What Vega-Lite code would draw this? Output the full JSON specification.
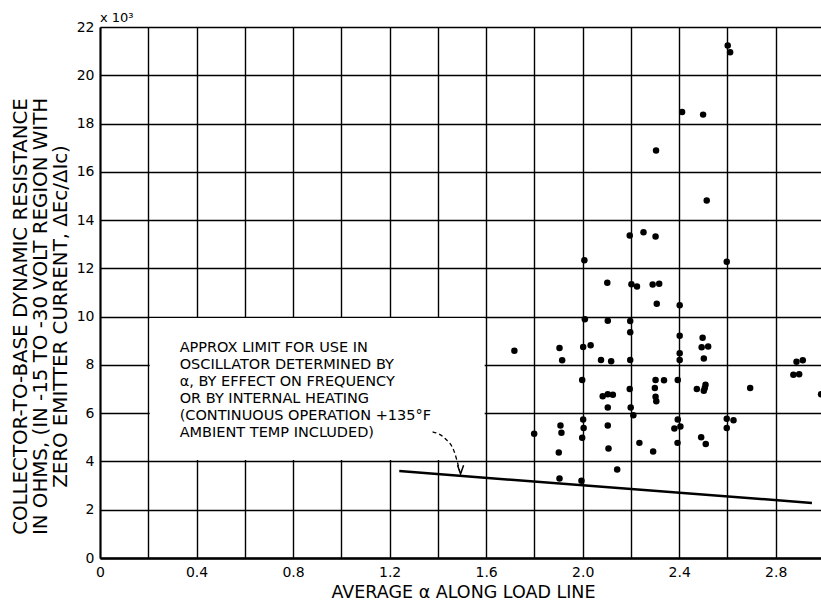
{
  "$schema": "https://vega.github.io/schema/vega-lite/v6.json",
  "width": 721,
  "height": 531,
  "autosize": {"type": "none"},
  "padding": {"left": 100, "top": 27, "right": 0, "bottom": 43},
  "background": "white",
  "config": {"view": {"stroke": null}, "font": "DejaVu Sans"},
  "datasets": {
    "points": [
      {"alpha": 2.601, "resistance": 21.23}, {"alpha": 2.611, "resistance": 20.95}, {"alpha": 2.412, "resistance": 18.48}, {"alpha": 2.499, "resistance": 18.37},
      {"alpha": 2.304, "resistance": 16.88}, {"alpha": 2.514, "resistance": 14.81}, {"alpha": 2.195, "resistance": 13.36}, {"alpha": 2.252, "resistance": 13.5},
      {"alpha": 2.302, "resistance": 13.32}, {"alpha": 2.007, "resistance": 12.34}, {"alpha": 2.597, "resistance": 12.27}, {"alpha": 2.102, "resistance": 11.4},
      {"alpha": 2.202, "resistance": 11.34}, {"alpha": 2.225, "resistance": 11.25}, {"alpha": 2.29, "resistance": 11.33}, {"alpha": 2.317, "resistance": 11.36},
      {"alpha": 2.307, "resistance": 10.53}, {"alpha": 2.402, "resistance": 10.47}, {"alpha": 2.009, "resistance": 9.89}, {"alpha": 2.104, "resistance": 9.83},
      {"alpha": 2.197, "resistance": 9.82}, {"alpha": 2.197, "resistance": 9.35}, {"alpha": 2.402, "resistance": 9.21}, {"alpha": 2.497, "resistance": 9.13},
      {"alpha": 1.717, "resistance": 8.59}, {"alpha": 1.904, "resistance": 8.7}, {"alpha": 2.002, "resistance": 8.74}, {"alpha": 2.033, "resistance": 8.81},
      {"alpha": 2.493, "resistance": 8.73}, {"alpha": 2.52, "resistance": 8.76}, {"alpha": 2.402, "resistance": 8.48}, {"alpha": 1.915, "resistance": 8.19},
      {"alpha": 2.076, "resistance": 8.2}, {"alpha": 2.118, "resistance": 8.15}, {"alpha": 2.197, "resistance": 8.2}, {"alpha": 2.402, "resistance": 8.2},
      {"alpha": 2.502, "resistance": 8.27}, {"alpha": 2.886, "resistance": 8.13}, {"alpha": 2.912, "resistance": 8.19}, {"alpha": 2.873, "resistance": 7.59},
      {"alpha": 2.897, "resistance": 7.61}, {"alpha": 1.998, "resistance": 7.37}, {"alpha": 2.302, "resistance": 7.37}, {"alpha": 2.337, "resistance": 7.36},
      {"alpha": 2.394, "resistance": 7.37}, {"alpha": 2.195, "resistance": 7.0}, {"alpha": 2.299, "resistance": 7.04}, {"alpha": 2.473, "resistance": 7.0},
      {"alpha": 2.509, "resistance": 7.18}, {"alpha": 2.506, "resistance": 7.04}, {"alpha": 2.502, "resistance": 6.93}, {"alpha": 2.694, "resistance": 7.04},
      {"alpha": 2.988, "resistance": 6.78}, {"alpha": 2.083, "resistance": 6.7}, {"alpha": 2.104, "resistance": 6.78}, {"alpha": 2.125, "resistance": 6.76},
      {"alpha": 2.302, "resistance": 6.68}, {"alpha": 2.305, "resistance": 6.49}, {"alpha": 2.104, "resistance": 6.24}, {"alpha": 2.199, "resistance": 6.24},
      {"alpha": 2.21, "resistance": 5.91}, {"alpha": 2.002, "resistance": 5.74}, {"alpha": 2.004, "resistance": 5.39}, {"alpha": 2.394, "resistance": 5.74},
      {"alpha": 2.405, "resistance": 5.45}, {"alpha": 2.38, "resistance": 5.37}, {"alpha": 2.597, "resistance": 5.77}, {"alpha": 2.625, "resistance": 5.71},
      {"alpha": 2.597, "resistance": 5.39}, {"alpha": 1.908, "resistance": 5.49}, {"alpha": 1.912, "resistance": 5.19}, {"alpha": 1.799, "resistance": 5.15},
      {"alpha": 2.104, "resistance": 5.49}, {"alpha": 1.998, "resistance": 4.98}, {"alpha": 1.901, "resistance": 4.37}, {"alpha": 2.107, "resistance": 4.54},
      {"alpha": 2.235, "resistance": 4.77}, {"alpha": 2.292, "resistance": 4.41}, {"alpha": 2.393, "resistance": 4.77}, {"alpha": 2.491, "resistance": 5.0},
      {"alpha": 2.51, "resistance": 4.72}, {"alpha": 2.143, "resistance": 3.67}, {"alpha": 1.904, "resistance": 3.29}, {"alpha": 1.995, "resistance": 3.2}
    ],
    "box": [{"alpha": 0.206, "alpha2": 1.594, "resistance": 4.06, "resistance2": 9.94}],
    "limit": [{"alpha": 1.24, "resistance": 3.6}, {"alpha": 2.95, "resistance": 2.28}],
    "arrow": [{"alpha": 1.378, "resistance": 5.23}, {"alpha": 1.43, "resistance": 4.95}, {"alpha": 1.468, "resistance": 4.4}, {"alpha": 1.49, "resistance": 3.62}],
    "tip": [{"alpha": 1.494, "resistance": 3.48}],
    "note": [{"alpha": 0.33, "resistance": 8.53, "label": ["APPROX LIMIT FOR USE IN", "OSCILLATOR DETERMINED BY", "α, BY EFFECT ON FREQUENCY", "OR BY INTERNAL HEATING", "(CONTINUOUS OPERATION +135°F", "AMBIENT TEMP INCLUDED)"]}],
    "mult": [{"alpha": 0, "resistance": 22, "label": "x 10³"}]
  },
  "encoding": {
    "x": {
      "field": "alpha", "type": "quantitative",
      "scale": {"domain": [0, 2.9875], "nice": false, "zero": false},
      "axis": {
        "values": [0, 0.2, 0.4, 0.6, 0.8, 1.0, 1.2, 1.4, 1.6, 1.8, 2.0, 2.2, 2.4, 2.6, 2.8],
        "labelExpr": "datum.value == 0 ? '0' : (round(datum.value * 10) % 4 == 0 ? format(datum.value, '.1f') : '')",
        "labelOverlap": false, "labelFlush": false,
        "grid": true, "gridColor": "black", "gridWidth": 1.4, "gridOpacity": 1,
        "domainColor": "black", "domainWidth": 2.5,
        "ticks": false, "tickSize": 0, "labelPadding": 7,
        "labelFontSize": 14, "labelColor": "black", "labelFont": "DejaVu Sans",
        "title": "AVERAGE α ALONG LOAD LINE",
        "titleFont": "DejaVu Sans", "titleFontSize": 17.5, "titleFontWeight": "normal", "titleColor": "black",
        "titleX": 363, "titleY": 34, "titleBaseline": "middle", "titleAlign": "center"
      }
    },
    "y": {
      "field": "resistance", "type": "quantitative",
      "scale": {"domain": [0, 22], "nice": false, "zero": false},
      "axis": {
        "values": [0, 2, 4, 6, 8, 10, 12, 14, 16, 18, 20, 22],
        "labelOverlap": false, "labelFlush": false,
        "grid": true, "gridColor": "black", "gridWidth": 1.4, "gridOpacity": 1,
        "domainColor": "black", "domainWidth": 2,
        "ticks": false, "tickSize": 0, "labelPadding": 6,
        "labelFontSize": 14, "labelColor": "black", "labelFont": "DejaVu Sans",
        "title": ["COLLECTOR-TO-BASE DYNAMIC RESISTANCE", "IN OHMS, (IN -15 TO -30 VOLT REGION WITH", "ZERO EMITTER CURRENT, ΔEc/ΔIc)"],
        "titleFont": "DejaVu Sans", "titleFontSize": 19.8, "titleFontWeight": "normal", "titleColor": "black",
        "titleLineHeight": 20, "titleAngle": -90,
        "titleX": -80, "titleY": 289, "titleBaseline": "middle", "titleAlign": "center"
      }
    }
  },
  "layer": [
    {
      "data": {"name": "box"},
      "mark": {"type": "rect", "fill": "white", "stroke": null},
      "encoding": {"x2": {"field": "alpha2"}, "y2": {"field": "resistance2"}}
    },
    {
      "data": {"name": "points"},
      "mark": {"type": "point", "filled": true, "color": "black", "size": 42, "opacity": 1}
    },
    {
      "data": {"name": "limit"},
      "mark": {"type": "line", "color": "black", "strokeWidth": 2.5}
    },
    {
      "data": {"name": "arrow"},
      "mark": {"type": "line", "color": "black", "strokeWidth": 1.3, "strokeDash": [4, 3], "interpolate": "monotone"}
    },
    {
      "data": {"name": "tip"},
      "mark": {"type": "point", "shape": "M-0.35,-1L0,0L0.35,-1", "filled": false, "stroke": "black", "strokeWidth": 1.5, "size": 300, "opacity": 1}
    },
    {
      "data": {"name": "note"},
      "mark": {"type": "text", "align": "left", "baseline": "alphabetic", "fontSize": 14.5, "lineHeight": 17, "color": "black", "font": "DejaVu Sans"},
      "encoding": {"text": {"field": "label"}}
    },
    {
      "data": {"name": "mult"},
      "mark": {"type": "text", "align": "left", "baseline": "middle", "dy": -9, "fontSize": 13, "color": "black", "font": "DejaVu Sans"},
      "encoding": {"text": {"field": "label"}}
    }
  ]
}
